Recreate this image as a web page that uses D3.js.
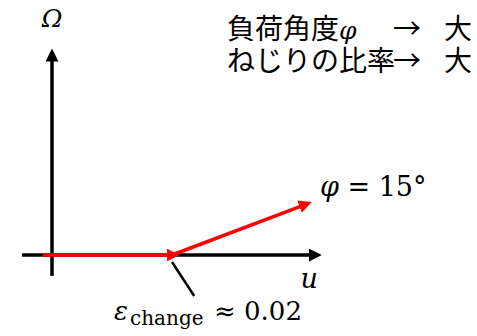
<!DOCTYPE html>
<html>
<head>
<meta charset="utf-8">
<script src="https://cdn.jsdelivr.net/npm/d3@7"></script>
<style>
    body { margin: 0; background: #fff; }
    .math { font-family: "DejaVu Serif", "Liberation Serif", serif; }
    .jp { font-family: "Noto Sans CJK JP", sans-serif; font-size: 28px; }
</style>
</head>
<body>
<div id="chart"></div>
<script>
// strain u vs. twist Omega (schematic)
var curveU = [-0.0015, 0.02, 0.0421];
var curveOmega = [0, 0, 0.245];
var axisU = [-0.005, 0.0437];
var axisOmega = [-0.102, 0.97];
var leaderU = [0.02, 0.0237];
var leaderOmega = [-0.034, -0.2];
var phiDeg = 15;
var epsChange = 0.02;
var noteLines = [["負荷角度", "φ", "→", "大"], ["ねじりの比率", "", "→", "大"]];

function init() {
    var w = 477;
    var h = 336;

    var svg = d3.select("#chart")
        .append("svg")
        .attr("width", w)
        .attr("height", h);

    var xScale = d3.scaleLinear().domain([0, 0.02]).range([52, 172]);
    var yScale = d3.scaleLinear().domain([0, 1]).range([255, 50]);

    var defs = svg.append("defs");
    function marker(id, color, size) {
        defs.append("marker")
            .attr("id", id)
            .attr("markerUnits", "userSpaceOnUse")
            .attr("viewBox", "0 -6 12 12")
            .attr("refX", 5)
            .attr("refY", 0)
            .attr("markerWidth", size)
            .attr("markerHeight", size)
            .attr("orient", "auto")
            .append("path")
            .attr("d", "M0,-6L12,0L0,6Z")
            .attr("fill", color);
    }
    marker("headBlack", "#000", 13);
    marker("headRed", "#f00", 13);

    // axes
    svg.append("line")
        .attr("x1", xScale(axisU[0])).attr("y1", yScale(0))
        .attr("x2", xScale(axisU[1])).attr("y2", yScale(0))
        .attr("stroke", "#000").attr("stroke-width", 3.5)
        .attr("marker-end", "url(#headBlack)");

    svg.append("line")
        .attr("x1", xScale(0)).attr("y1", yScale(axisOmega[0]))
        .attr("x2", xScale(0)).attr("y2", yScale(axisOmega[1]))
        .attr("stroke", "#000").attr("stroke-width", 3.5)
        .attr("marker-end", "url(#headBlack)");

    // red curve, one arrow per segment
    var pts = curveU.map(function (u, i) { return [u, curveOmega[i]]; });
    svg.selectAll(".seg")
        .data(d3.pairs(pts))
        .enter().append("line")
        .attr("class", "seg")
        .attr("x1", function (d) { return xScale(d[0][0]); })
        .attr("y1", function (d) { return yScale(d[0][1]); })
        .attr("x2", function (d) { return xScale(d[1][0]); })
        .attr("y2", function (d) { return yScale(d[1][1]); })
        .attr("stroke", "#f00").attr("stroke-width", 3.5)
        .attr("marker-end", "url(#headRed)");

    // leader line to epsilon label
    svg.append("line")
        .attr("x1", xScale(leaderU[0])).attr("y1", yScale(leaderOmega[0]))
        .attr("x2", xScale(leaderU[1])).attr("y2", yScale(leaderOmega[1]))
        .attr("stroke", "#000").attr("stroke-width", 2.5);

    // labels
    svg.append("text").attr("class", "math")
        .attr("x", xScale(0)).attr("y", 27)
        .attr("text-anchor", "middle")
        .style("font-size", "25px").style("font-style", "italic")
        .text("Ω");

    svg.append("text").attr("class", "math")
        .attr("x", xScale(axisU[1]) - 5).attr("y", 288)
        .attr("text-anchor", "middle")
        .style("font-size", "27px").style("font-style", "italic")
        .text("u");

    var phiLabel = svg.append("text").attr("class", "math")
        .attr("x", 320).attr("y", 196)
        .style("font-size", "27px");
    phiLabel.append("tspan").style("font-style", "italic").text("φ");
    phiLabel.append("tspan").text(" = " + phiDeg + "°");

    var epsLabel = svg.append("g").attr("class", "math");
    epsLabel.append("text").attr("x", 114).attr("y", 320)
        .style("font-size", "26px").style("font-style", "italic").text("ε");
    epsLabel.append("text").attr("x", 130).attr("y", 325)
        .style("font-size", "20px").text("change");
    epsLabel.append("text").attr("x", 214).attr("y", 320)
        .style("font-size", "26px").text("≈ " + epsChange.toFixed(2));

    // notes at top right
    var notes = svg.selectAll(".note")
        .data(noteLines)
        .enter().append("text")
        .attr("class", "note jp")
        .attr("y", function (d, i) { return 39 + i * 32; });
    notes.append("tspan").attr("x", 227).text(function (d) { return d[0]; });
    notes.append("tspan").attr("class", "math")
        .style("font-style", "italic").style("font-size", "25px")
        .text(function (d) { return d[1]; });
    notes.append("tspan").attr("x", 393).text(function (d) { return d[2]; });
    notes.append("tspan").attr("x", 444).text(function (d) { return d[3]; });
}

window.onload = init;
</script>
</body>
</html>
